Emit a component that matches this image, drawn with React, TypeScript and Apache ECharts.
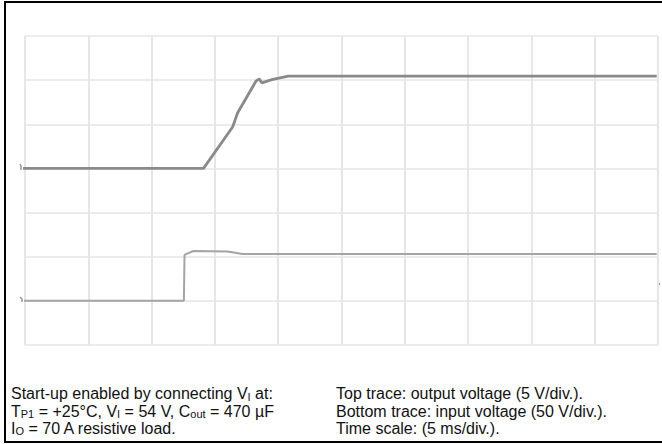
import React, { useEffect, useRef } from "react";
import * as echarts from "echarts";

// Time in ms (5 ms/div, 10 divisions)
const timeMin = 0;
const timeMax = 50;
const timeStep = 5;

// Top trace: output voltage, V (5 V/div), 0 V reference at division 4 from bottom
const outMin = -20;
const outMax = 15;
const outStep = 5;
const outputTime = [-0.3, 14.1, 16.4, 16.8, 18.25, 18.5, 18.7, 19.5, 20.8, 49.9];
const outputVolt = [0, 0, 4.7, 6.3, 9.9, 10.15, 9.7, 10.05, 10.45, 10.45];

// Bottom trace: input voltage, V (50 V/div), 0 V reference at division 1 from bottom
const inMin = -50;
const inMax = 300;
const inStep = 50;
const inputTime = [-0.3, 12.55, 12.6, 12.9, 13.3, 16.0, 17.2, 49.9];
const inputVolt = [0, 0, 52, 54, 56.5, 55.9, 53.1, 53.1];

const leftLines = [
  "{a|Start-up enabled by connecting V}{sub|I}{a| at:}",
  "{a|T}{sub|P1}{a| = +25°C, V}{sub|I}{a| = 54 V, C}{sub|out}{a| = 470 µF}",
  "{a|I}{sub|O}{a| = 70 A resistive load.}",
];
const rightLines = [
  "Top trace: output voltage (5 V/div.).",
  "Bottom trace: input voltage (50 V/div.).",
  "Time scale: (5 ms/div.).",
];

const FONT = "'Liberation Sans', Arial, Helvetica, sans-serif";

export default function App() {
  const ref = useRef<HTMLDivElement>(null);
  useEffect(() => {
    if (!ref.current) return;
    const chart = echarts.init(ref.current, null, { renderer: "svg" });
    const rich = {
      a: { fontSize: 16, fontFamily: FONT, lineHeight: 17, fill: "#111" },
      sub: { fontSize: 11, fontFamily: FONT, verticalAlign: "bottom", fill: "#111" },
    };
    const lineTops = [385, 402.5, 419.5];
    const texts: any[] = [];
    leftLines.forEach((t, i) => {
      texts.push({
        type: "text",
        x: 11,
        y: lineTops[i],
        style: { text: t, rich, fontSize: 16, fontFamily: FONT, fill: "#111", verticalAlign: "top" },
      });
    });
    rightLines.forEach((t, i) => {
      texts.push({
        type: "text",
        x: 336,
        y: lineTops[i],
        style: {
          text: "{a|" + t + "}",
          rich,
          fontSize: 16,
          fontFamily: FONT,
          fill: "#111",
          verticalAlign: "top",
        },
      });
    });
    chart.setOption({
      animation: false,
      backgroundColor: "#fff",
      grid: { left: 25, right: 4, top: 36, bottom: 99, containLabel: false },
      xAxis: {
        type: "value",
        min: timeMin,
        max: timeMax,
        interval: timeStep,
        axisLine: { show: false },
        axisTick: { show: false },
        axisLabel: { show: false },
        splitLine: { show: true, lineStyle: { color: "#e6e6e6", width: 2 } },
      },
      yAxis: [
        {
          type: "value",
          min: outMin,
          max: outMax,
          interval: outStep,
          axisLine: { show: false },
          axisTick: { show: false },
          axisLabel: { show: false },
          splitLine: { show: true, lineStyle: { color: "#ececec", width: 2 } },
        },
        {
          type: "value",
          min: inMin,
          max: inMax,
          interval: inStep,
          axisLine: { show: false },
          axisTick: { show: false },
          axisLabel: { show: false },
          splitLine: { show: false },
        },
      ],
      series: [
        {
          type: "line",
          yAxisIndex: 0,
          data: outputTime.map((t, i) => [t, outputVolt[i]]),
          symbol: "none",
          clip: false,
          lineStyle: { color: "#8a8a8a", width: 2.8 },
        },
        {
          type: "line",
          yAxisIndex: 1,
          data: inputTime.map((t, i) => [t, inputVolt[i]]),
          symbol: "none",
          clip: false,
          lineStyle: { color: "#a4a4a4", width: 2 },
        },
      ],
      graphic: [
        { type: "line", shape: { x1: 4, y1: 2, x2: 662, y2: 2 }, style: { stroke: "#000", lineWidth: 2 } },
        { type: "line", shape: { x1: 5, y1: 1, x2: 5, y2: 443 }, style: { stroke: "#000", lineWidth: 2 } },
        { type: "line", shape: { x1: 4, y1: 442, x2: 662, y2: 442 }, style: { stroke: "#000", lineWidth: 2 } },
        { type: "polyline", shape: { points: [[20, 164], [21, 166], [21, 170]] }, style: { stroke: "#999", lineWidth: 1.5, fill: "none" } },
        { type: "polyline", shape: { points: [[20, 297], [22, 299], [22, 302]] }, style: { stroke: "#999", lineWidth: 1.5, fill: "none" } },
        { type: "rect", shape: { x: 657, y: 283, width: 3, height: 2 }, style: { fill: "#999" } },
        ...texts,
      ],
    });
    return () => chart.dispose();
  }, []);
  return (
    <div
      ref={ref}
      style={{ position: "absolute", left: 0, top: 0, width: 662, height: 444, background: "#fff" }}
    />
  );
}
